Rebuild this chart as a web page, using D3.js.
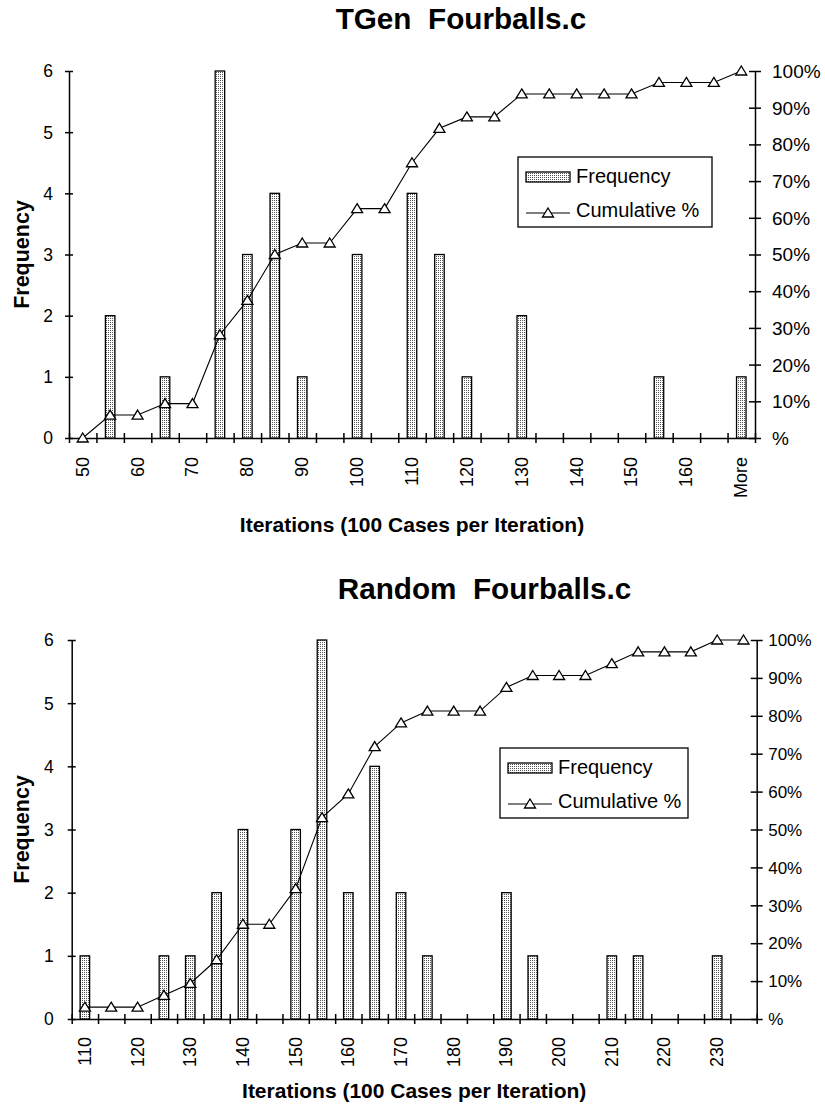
<!DOCTYPE html>
<html>
<head>
<meta charset="utf-8">
<script src="https://cdn.jsdelivr.net/npm/d3@7"></script>
<style>
  body { margin: 0; background: #fff; }
  text { font-family: "Liberation Sans", Arial, sans-serif; fill: #000; }
</style>
</head>
<body>
<svg id="chart" width="825" height="1105"></svg>
<script>
// data
const tgenBins = ["50","55","60","65","70","75","80","85","90","95","100","105","110",
                  "115","120","125","130","135","140","145","150","155","160","165","More"];
const tgenFreq = [0,2,0,1,0,6,3,4,1,0,3,0,4,3,1,0,2,0,0,0,0,1,0,0,1];
const tgenCum  = [0,6.25,6.25,9.38,9.38,28.13,37.5,50,53.13,53.13,62.5,62.5,75,
                  84.38,87.5,87.5,93.75,93.75,93.75,93.75,93.75,96.88,96.88,96.88,100];

const randBins = ["110","115","120","125","130","135","140","145","150","155","160","165","170",
                  "175","180","185","190","195","200","205","210","215","220","225","230","More"];
const randFreq = [1,0,0,1,1,2,3,0,3,6,2,4,2,1,0,0,2,1,0,0,1,1,0,0,1,0];
const randCum  = [3.13,3.13,3.13,6.25,9.38,15.63,25,25,34.38,53.13,59.38,71.88,78.13,
                  81.25,81.25,81.25,87.5,90.63,90.63,90.63,93.75,96.88,96.88,96.88,100,100];

const freqTicks = [0,1,2,3,4,5,6];
const pctTicks  = [0,10,20,30,40,50,60,70,80,90,100];
const pctLabels = ["%","10%","20%","30%","40%","50%","60%","70%","80%","90%","100%"];

const svg = d3.select("#chart");

// stipple fill used by the Excel bars
const pat = svg.append("defs").append("pattern")
  .attr("id", "dots")
  .attr("patternUnits", "userSpaceOnUse")
  .attr("width", 2).attr("height", 2);
pat.append("rect").attr("width", 2).attr("height", 2).attr("fill", "#fff");
pat.append("rect").attr("width", 1).attr("height", 1).attr("fill", "#555");

const tri = "M0,-5L5.5,4L-5.5,4Z";

function drawChart(c) {
  const g = svg.append("g");

  const x = d3.scaleBand().domain(c.bins).range([c.left, c.right]);
  const xi = d3.scaleLinear().domain([0, c.bins.length]).range([c.left, c.right]);
  const y = d3.scaleLinear().domain([0, 6]).range([c.bottom, c.top]);
  const y2 = d3.scaleLinear().domain([0, 100]).range([c.bottom, c.top]);
  const mid = d => x(d) + x.bandwidth() / 2;

  // title
  g.append("text")
    .attr("x", c.titleX).attr("y", c.titleY)
    .attr("text-anchor", "middle")
    .style("font-size", "29.7px").style("font-weight", "bold")
    .style("white-space", "pre")
    .text(c.title);

  // x axis (ticks on bin edges, crossing the line)
  const xAxis = g.append("g")
    .attr("transform", `translate(0,${c.bottom})`)
    .call(d3.axisBottom(xi).tickValues(d3.range(c.bins.length + 1))
      .tickSize(5).tickSizeOuter(0).tickFormat(""));
  xAxis.selectAll(".tick line").attr("y1", -5);

  const xLab = g.append("g")
    .attr("transform", `translate(0,${c.bottom})`)
    .call(d3.axisBottom(x).tickSize(0).tickFormat((d, i) => i % 2 ? "" : d));
  xLab.select(".domain").remove();
  xLab.selectAll("text")
    .attr("transform", "rotate(-90)")
    .attr("text-anchor", "end")
    .attr("x", -c.xGap).attr("y", 0).attr("dy", "0.33em")
    .style("font-size", "18px");

  // left axis
  const yAxis = g.append("g")
    .attr("transform", `translate(${c.left},0)`)
    .call(d3.axisLeft(y).tickValues(freqTicks).tickSize(4).tickSizeOuter(0)
      .tickPadding(c.leftGap - 4).tickFormat(d3.format("d")));
  yAxis.selectAll(".tick line").attr("x1", 4);
  yAxis.selectAll("text").style("font-size", "17.5px").attr("dy", "0.34em");

  // right axis
  const yAxis2 = g.append("g")
    .attr("transform", `translate(${c.right},0)`)
    .call(d3.axisRight(y2).tickValues(pctTicks).tickSize(6).tickSizeOuter(0)
      .tickPadding(c.rightGap - 6).tickFormat((d, i) => pctLabels[i]));
  yAxis2.selectAll(".tick line").attr("x1", -6);
  yAxis2.selectAll("text").style("font-size", c.rightFont + "px").attr("dy", "0.34em");

  g.selectAll(".domain, .tick line").attr("stroke", "#000").attr("stroke-width", 1.5);

  // bars
  const barW = 9.5;
  g.append("g").selectAll("rect")
    .data(c.bins.map((b, i) => ({ b, v: c.freq[i] })).filter(d => d.v > 0))
    .join("rect")
      .attr("x", d => mid(d.b) - barW / 2)
      .attr("y", d => y(d.v))
      .attr("width", barW)
      .attr("height", d => y(0) - y(d.v))
      .attr("fill", "url(#dots)")
      .attr("stroke", "#000")
      .attr("stroke-width", 1.3);

  // cumulative line
  const pts = c.bins.map((b, i) => [mid(b), y2(c.cum[i])]);
  g.append("path")
    .attr("d", d3.line()(pts))
    .attr("fill", "none").attr("stroke", "#000").attr("stroke-width", 1.1);
  g.append("g").selectAll("path")
    .data(pts)
    .join("path")
      .attr("transform", d => `translate(${d[0]},${d[1]})`)
      .attr("d", tri)
      .attr("fill", "#fff").attr("stroke", "#000").attr("stroke-width", 1.3);

  // axis titles
  g.append("text")
    .attr("transform", `translate(${c.yTitleX},${(c.top + c.bottom) / 2}) rotate(-90)`)
    .attr("text-anchor", "middle")
    .style("font-size", "21.5px").style("font-weight", "bold")
    .text("Frequency");
  g.append("text")
    .attr("x", (c.left + c.right) / 2).attr("y", c.xTitleY)
    .attr("text-anchor", "middle")
    .style("font-size", "21px").style("font-weight", "bold")
    .text("Iterations (100 Cases per Iteration)");

  // legend
  const lg = g.append("g").attr("transform", `translate(${c.legX},${c.legY})`);
  lg.append("rect").attr("width", c.legW).attr("height", 70)
    .attr("fill", "#fff").attr("stroke", "#000").attr("stroke-width", 1.3);
  lg.append("rect").attr("x", 8).attr("y", 15).attr("width", 44).attr("height", 10)
    .attr("fill", "url(#dots)").attr("stroke", "#000").attr("stroke-width", 1.3);
  lg.append("text").attr("x", 58).attr("y", 26).style("font-size", "20px").text("Frequency");
  lg.append("line").attr("x1", 8).attr("x2", 52).attr("y1", 56).attr("y2", 56)
    .attr("stroke", "#000").attr("stroke-width", 1.1);
  lg.append("path").attr("transform", "translate(30,56)").attr("d", tri)
    .attr("fill", "#fff").attr("stroke", "#000").attr("stroke-width", 1.3);
  lg.append("text").attr("x", 58).attr("y", 60).style("font-size", "20px").text("Cumulative %");
}

drawChart({
  title: "TGen  Fourballs.c", titleX: 461, titleY: 29,
  bins: tgenBins, freq: tgenFreq, cum: tgenCum,
  left: 69, right: 755, top: 71, bottom: 438,
  xGap: 19, leftGap: 16, rightGap: 17, rightFont: 19,
  yTitleX: 28.5, xTitleY: 532,
  legX: 518, legY: 157, legW: 194
});

drawChart({
  title: "Random  Fourballs.c", titleX: 484.5, titleY: 599,
  bins: randBins, freq: randFreq, cum: randCum,
  left: 71.7, right: 756.7, top: 640, bottom: 1019,
  xGap: 18, leftGap: 18, rightGap: 11.5, rightFont: 17,
  yTitleX: 28.5, xTitleY: 1098,
  legX: 500, legY: 748, legW: 188
});
</script>
</body>
</html>
